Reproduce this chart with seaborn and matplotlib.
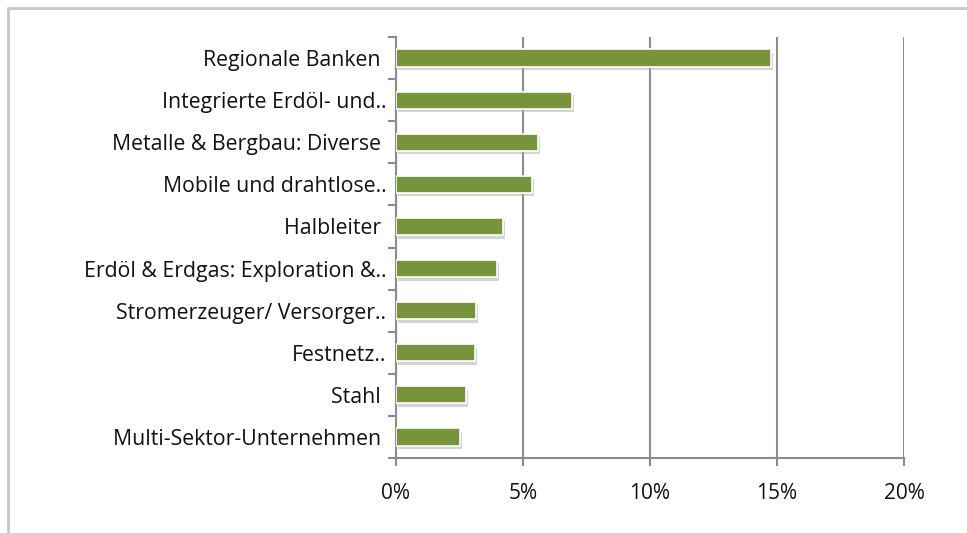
import matplotlib
matplotlib.use("Agg")
import matplotlib.pyplot as plt
import matplotlib.patheffects as pe
import seaborn as sns
import pandas as pd

categories = [
    "Regionale Banken ",
    "Integrierte Erdöl- und..",
    "Metalle & Bergbau: Diverse ",
    "Mobile und drahtlose..",
    "Halbleiter ",
    "Erdöl & Erdgas: Exploration &..",
    "Stromerzeuger/ Versorger..",
    "Festnetz..",
    "Stahl ",
    "Multi-Sektor-Unternehmen ",
]
values = [14.75, 6.92, 5.6, 5.34, 4.2, 3.97, 3.14, 3.11, 2.74, 2.53]
x_ticks = [0, 5, 10, 15, 20]
x_tick_labels = ["0%", "5%", "10%", "15%", "20%"]

df = pd.DataFrame({"category": categories, "value": values})

sns.set_theme(style="white")
plt.rcParams["font.family"] = ["Open Sans", "DejaVu Sans"]

fig = plt.figure(figsize=(9.67, 5.33), dpi=100)
ax = fig.add_axes([396 / 967, 1 - 458 / 533, (904 - 396) / 967, (458 - 37) / 533])

sns.barplot(data=df, x="value", y="category", orient="h", color="#77933C",
            saturation=1, width=0.41, ax=ax, edgecolor="white", linewidth=1.2,
            zorder=3)
for p in ax.patches:
    p.set_path_effects([pe.SimplePatchShadow(offset=(1.5, -2.5), shadow_rgbFace="#aaaaaa", alpha=0.5),
                        pe.Normal()])

ax.set_xlim(0, 20)
ax.set_ylim(9.5, -0.5)
ax.set_xticks(x_ticks)
ax.set_xticklabels(x_tick_labels, fontsize=15, color="#111111")
ax.set_xlabel("")
ax.set_ylabel("")
ax.tick_params(axis="y", length=0, labelsize=15.3, labelcolor="#111111", pad=7)
ax.tick_params(axis="x", length=6, width=1.5, color="#8c8c8c", direction="out", pad=12, bottom=True)
ax.set_yticks([i + 0.5 for i in range(-1, 10)], minor=True)
ax.tick_params(axis="y", which="minor", length=6, width=1.5, color="#8c8c8c", left=True)

ax.grid(axis="x", color="#8c8c8c", linewidth=1.5, zorder=0)
ax.set_axisbelow(True)
for s in ["top", "right"]:
    ax.spines[s].set_visible(False)
for s in ["left", "bottom"]:
    ax.spines[s].set_color("#8c8c8c")
    ax.spines[s].set_linewidth(1.5)

fig.add_artist(plt.Line2D([8 / 967, 1], [1 - 8 / 533, 1 - 8 / 533], transform=fig.transFigure,
                          color="#c8c8c8", linewidth=2))
fig.add_artist(plt.Line2D([8 / 967, 8 / 967], [0, 1 - 8 / 533], transform=fig.transFigure,
                          color="#c8c8c8", linewidth=2))

fig.savefig("out.png", dpi=100)
